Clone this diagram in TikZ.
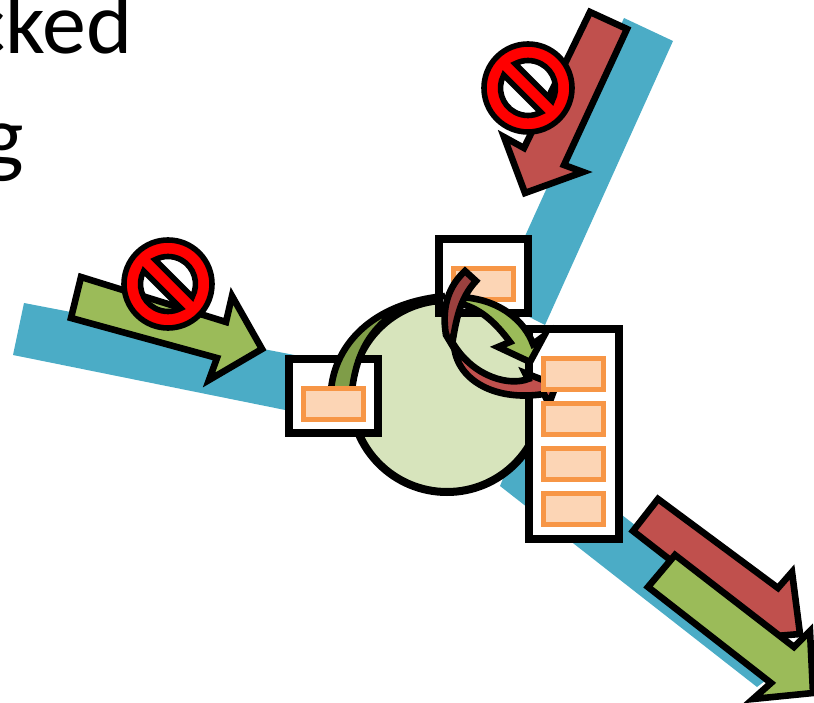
\documentclass[tikz,border=0pt]{standalone}
\usepackage{fontspec}
\setmainfont{Carlito}
\definecolor{band}{HTML}{4BACC6}
\definecolor{disc}{HTML}{D7E4BC}
\definecolor{orangeline}{HTML}{F79646}
\definecolor{orangefill}{HTML}{FCD5B5}
\definecolor{redface}{HTML}{C0504D}
\definecolor{redback}{HTML}{9A403E}
\definecolor{greenface}{HTML}{9BBB59}
\definecolor{greenback}{HTML}{7F9D48}
\tikzset{
  bandshape/.style={fill=band,draw=none},
  blackline/.style={draw=black,line width=6.6pt,miter limit=10,line join=miter},
  redarrow/.style={blackline,fill=redface},
  greenarrow/.style={blackline,fill=greenface},
  holder/.style={draw=black,line width=8pt,fill=white},
  slot/.style={draw=orangeline,line width=5.6pt,fill=orangefill},
  bigtext/.style={inner sep=0pt,font=\fontsize{88pt}{88pt}\selectfont,text=black}
}
\newcommand{\nosign}[2]{%
  \begin{scope}[shift={(#1pt,-#2pt)},x=1pt,y=1pt,rotate=-45]
    \path[draw=black,line width=5.6pt,fill=red,even odd rule]
      (0,0) circle[radius=44]
      (17:27.5) arc[start angle=17,end angle=163,radius=27.5] -- cycle
      (197:27.5) arc[start angle=197,end angle=343,radius=27.5] -- cycle;
  \end{scope}}
\begin{document}
\begin{tikzpicture}[x=1pt,y=-1pt]
\useasboundingbox (0,0) rectangle (814,703);
\node[bigtext,anchor=base east] (word1) at (133,54) {cked};
\node[bigtext,anchor=base east] (word2) at (24,167) {g};
% bands
\path[bandshape] (24,303) -- (13,355) -- (300,413) -- (310,358) -- cycle;
\path[bandshape] (624,18) -- (673,41) -- (545,325) -- (496,300) -- cycle;
\path[bandshape] (500,486) -- (757,687) -- (800,654) -- (622,515) -- (520,437) -- cycle;
% blocked arrows
\path[greenarrow] (81,277) -- (71,318) -- (217,358) -- (209,380) -- (262,349) -- (232,296) -- (226,322) -- cycle;
\nosign{168}{284}
\path[redarrow] (590,12) -- (627,29) -- (564,165) -- (583,172) -- (525,193) -- (504,137) -- (524,148) -- cycle;
\nosign{528}{88}
% outgoing arrows
\path[redarrow] (658,499) -- (633,531) -- (750,622) -- (752,638) -- (800,634) -- (792,572) -- (778,588) -- cycle;
\path[greenarrow] (675,555) -- (648,587) -- (771,683) -- (753,699) -- (813,693) -- (810,631) -- (794,647) -- cycle;
% router
\node[circle,draw=black,line width=8pt,fill=disc,minimum size=192pt,inner sep=0pt] (router) at (447,396) {};
\node[holder,minimum width=89pt,minimum height=74pt,inner sep=0pt] (inq) at (333.5,396) {};
\node[holder,minimum width=89pt,minimum height=74pt,inner sep=0pt] (topq) at (483.5,276) {};
\node[holder,minimum width=90pt,minimum height=210pt,inner sep=0pt] (outq) at (574,434) {};
\node[slot,minimum width=60pt,minimum height=31pt,inner sep=0pt] (topslot) at (483.5,284) {};
% curved arrows
\path[blackline,fill=greenback] (331,390) .. controls (335,345) and (372,303) .. (445,296)
  .. controls (425,298) and (408,303) .. (393,314) .. controls (372,330) and (357,350) .. (352,390) -- cycle;
\path[greenarrow] (458,297) .. controls (500,298) and (525,322) .. (533,344) -- (544,336) -- (530,362)
  -- (498,347) -- (510,342) .. controls (495,322) and (480,308) .. (458,303) -- cycle;
\path[blackline,fill=redback] (465,271) .. controls (450,285) and (441,305) .. (446,335) -- (452,345)
  .. controls (456,320) and (460,298) .. (476,281) -- cycle;
\path[redarrow] (454,345) .. controls (456,378) and (492,402) .. (544,394) -- (549,404) -- (556,385)
  -- (525,373) -- (528,379) .. controls (510,386) and (475,378) .. (454,345) -- cycle;
% slots over the arrows
\node[slot,minimum width=60pt,minimum height=31pt,inner sep=0pt] (inslot) at (333.5,404) {};
\node[slot,minimum width=60pt,minimum height=31pt,inner sep=0pt] (out1) at (573.5,374) {};
\node[slot,minimum width=60pt,minimum height=31pt,inner sep=0pt] (out2) at (573.5,419) {};
\node[slot,minimum width=60pt,minimum height=31pt,inner sep=0pt] (out3) at (573.5,464) {};
\node[slot,minimum width=60pt,minimum height=31pt,inner sep=0pt] (out4) at (573.5,509) {};
\end{tikzpicture}
\end{document}
